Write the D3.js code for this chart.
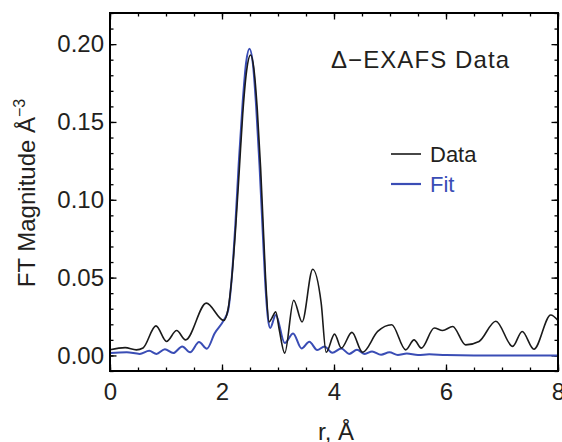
<!DOCTYPE html>
<html>
<head>
<meta charset="utf-8">
<script src="https://cdn.jsdelivr.net/npm/d3@7"></script>
<style>
	body { margin: 0; background: #fff; }
	text { font-family: "Liberation Sans", Arial, sans-serif; fill: #231f20; }
</style>
</head>
<body>
<div id="chart"></div>
<script>
// r (Angstrom) and FT magnitude
var dataR = [0, 0.27, 0.47, 0.59, 0.82, 1.01, 1.19, 1.35, 1.72, 2.03, 2.11, 2.17, 2.24, 2.31, 2.37, 2.44, 2.51, 2.57, 2.63, 2.69, 2.74, 2.79, 2.84, 2.89, 2.96, 3.02, 3.12, 3.28, 3.43, 3.62, 3.77, 3.86, 4.01, 4.13, 4.32, 4.51, 4.78, 5.03, 5.28, 5.43, 5.56, 5.79, 5.94, 6.12, 6.35, 6.59, 6.89, 7.19, 7.36, 7.57, 7.87, 8.0]
var dataY = [0.0036, 0.005, 0.0036, 0.0048, 0.019, 0.009, 0.016, 0.010, 0.0336, 0.0225, 0.030, 0.048, 0.080, 0.120, 0.155, 0.183, 0.193, 0.184, 0.158, 0.120, 0.080, 0.042, 0.0215, 0.024, 0.028, 0.017, 0.0015, 0.0355, 0.0215, 0.0554, 0.034, 0.002, 0.0137, 0.0047, 0.0148, 0.002, 0.0154, 0.0197, 0.0036, 0.010, 0.0047, 0.0176, 0.016, 0.0186, 0.0068, 0.009, 0.022, 0.0058, 0.0154, 0.004, 0.026, 0.0225]

var fitR = [0, 0.30, 0.53, 0.70, 0.83, 0.98, 1.13, 1.29, 1.43, 1.59, 1.73, 1.87, 2.03, 2.11, 2.17, 2.24, 2.30, 2.37, 2.43, 2.49, 2.55, 2.61, 2.67, 2.72, 2.77, 2.82, 2.86, 2.96, 3.12, 3.27, 3.42, 3.56, 3.70, 3.83, 3.97, 4.13, 4.27, 4.41, 4.55, 4.68, 4.84, 4.99, 5.14, 5.30, 5.50, 5.70, 6.00, 6.50, 7.00, 8.00]
var fitY = [0.0015, 0.002, 0.001, 0.003, 0.001, 0.004, 0.0015, 0.0058, 0.002, 0.0086, 0.0043, 0.0143, 0.0225, 0.029, 0.048, 0.085, 0.124, 0.163, 0.188, 0.197, 0.188, 0.160, 0.122, 0.085, 0.048, 0.024, 0.0176, 0.026, 0.008, 0.0141, 0.0045, 0.0088, 0.0035, 0.0058, 0.0017, 0.0045, 0.001, 0.0036, 0.001, 0.0026, 0.0005, 0.002, 0.0003, 0.0012, 0.0002, 0.0008, 0.0002, 0, 0, 0]

var xTicks = [0, 2, 4, 6, 8]
var yTicks = [0, 0.05, 0.10, 0.15, 0.20]
var legendLabels = ["Data", "Fit"]
var lineColors = ["#1a1a1a", "#3a4db5"]

var W = 562, H = 442
// note: "top" is taken by window.top, so plot edges get their own names
var pLeft = 110, pRight = 558, pTop = 13, pBottom = 371

var svg = d3.select("#chart").append("svg")
	.attr("width", W)
	.attr("height", H)

var x = d3.scaleLinear().domain([0, 8]).range([pLeft, pRight])
var y = d3.scaleLinear().domain([-0.01, 0.22]).range([pBottom, pTop])

var xMinor = d3.range(0, 8.01, 0.5)
var yMinor = d3.range(-0.01, 0.2201, 0.01)

// ticks on every side, pointing in
function drawAxis(axis, tr) {
	var g = svg.append("g").attr("transform", tr).call(axis)
	g.select(".domain").remove()
	g.selectAll("line").attr("stroke", "#000").attr("stroke-width", 1.3)
	return g
}

drawAxis(d3.axisBottom(x).tickValues(xMinor).tickSize(-3.5).tickFormat(""), "translate(0," + pBottom + ")")
drawAxis(d3.axisTop(x).tickValues(xMinor).tickSize(-3.5).tickFormat(""), "translate(0," + pTop + ")")
drawAxis(d3.axisLeft(y).tickValues(yMinor).tickSize(-3.5).tickFormat(""), "translate(" + pLeft + ",0)")
drawAxis(d3.axisRight(y).tickValues(yMinor).tickSize(-3.5).tickFormat(""), "translate(" + pRight + ",0)")

drawAxis(d3.axisBottom(x).tickValues(xTicks).tickSize(-6.5).tickPadding(12).tickFormat(d3.format("d")), "translate(0," + pBottom + ")")
drawAxis(d3.axisTop(x).tickValues(xTicks).tickSize(-6.5).tickFormat(""), "translate(0," + pTop + ")")
drawAxis(d3.axisLeft(y).tickValues(yTicks).tickSize(-6.5).tickPadding(6).tickFormat(d3.format(".2f")), "translate(" + pLeft + ",0)")
drawAxis(d3.axisRight(y).tickValues(yTicks).tickSize(-6.5).tickFormat(""), "translate(" + pRight + ",0)")

svg.selectAll(".tick text")
	.attr("font-size", 24)
	.attr("font-family", "Liberation Sans, Arial, sans-serif")
	.attr("fill", "#231f20")

var line = d3.line()
	.x(function (d) { return x(d[0]) })
	.y(function (d) { return y(d[1]) })
	.curve(d3.curveMonotoneX)

var series = [d3.zip(dataR, dataY), d3.zip(fitR, fitY)]

// fit underneath, data on top
svg.append("g").selectAll("path")
	.data(series.slice().reverse())
	.enter()
	.append("path")
	.attr("d", line)
	.attr("fill", "none")
	.attr("stroke", function (d, i) { return lineColors[1 - i] })
	.attr("stroke-width", function (d, i) { return i == 0 ? 2 : 1.6 })

// frame
svg.append("rect")
	.attr("x", pLeft).attr("y", pTop)
	.attr("width", pRight - pLeft).attr("height", pBottom - pTop)
	.attr("fill", "none")
	.attr("stroke", "#000")
	.attr("stroke-width", 2)

svg.append("text")
	.attr("x", 331).attr("y", 68)
	.attr("font-size", 24)
	.attr("textLength", 178)
	.attr("lengthAdjust", "spacing")
	.text("\u0394\u2212EXAFS Data")

var leg = svg.append("g").selectAll("g")
	.data(legendLabels)
	.enter()
	.append("g")
	.attr("transform", function (d, i) { return "translate(391," + (154 + i * 30) + ")" })

leg.append("line")
	.attr("x1", 0).attr("x2", 30)
	.attr("stroke", function (d, i) { return lineColors[i] })
	.attr("stroke-width", function (d, i) { return i == 0 ? 1.6 : 2.2 })

leg.append("text")
	.attr("x", 39).attr("y", 8)
	.attr("font-size", 22)
	.style("fill", function (d, i) { return i == 0 ? "#231f20" : lineColors[1] })
	.text(function (d) { return d })

var ylab = svg.append("text")
	.attr("transform", "translate(35,193) rotate(-90)")
	.attr("text-anchor", "middle")
	.attr("font-size", 24)
ylab.append("tspan").text("FT Magnitude \u00c5")
ylab.append("tspan").attr("font-size", 16).attr("dy", -10).text("\u22123")

svg.append("text")
	.attr("x", 336).attr("y", 440)
	.attr("text-anchor", "middle")
	.attr("font-size", 24)
	.text("r, \u00c5")
</script>
</body>
</html>
